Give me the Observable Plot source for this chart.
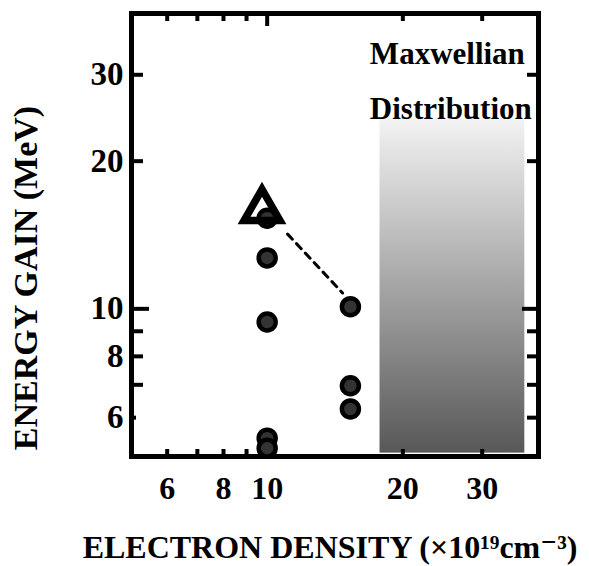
<!DOCTYPE html>
<html>
<head>
<meta charset="utf-8">
<script src="https://cdn.jsdelivr.net/npm/d3@7"></script>
<script src="https://cdn.jsdelivr.net/npm/@observablehq/plot@0.6"></script>
<style>
  html, body { margin: 0; padding: 0; background: #fff; }
  #chart svg { display: block; }
</style>
</head>
<body>
<div id="chart"></div>
<script>
// ---- data ----
const densityA = [10, 10, 10, 10, 10];          // ×10^19 cm^-3
const energyA  = [15.3, 12.7, 9.4, 5.45, 5.2];  // MeV
const densityB = [15.3, 15.3, 15.3];
const energyB  = [10.1, 6.97, 6.25];
const triDensity = [9.74];
const triEnergy  = [15.9];
const trendDensity = [11.1, 14.7];
const trendEnergy  = [14.2, 10.77];
const bandDensity = [17.8, 37.3];
const bandEnergy  = [5.08, 24.4];
const annoText = ["Maxwellian", "Distribution"];
const annoDensity = [16.9, 16.9];
const annoEnergy = [33.1, 25.5];
const xTickLabels = [6, 8, 10, 20, 30];
const yTickLabels = [6, 8, 10, 20, 30];
const minorTicks = [6, 7, 8, 9, 20, 30];
const majorTicks = [10];
const xTitle = "ELECTRON DENSITY (×10¹⁹cm⁻³)";
const yTitle = "ENERGY GAIN (MeV)";

// ---- tables built from the arrays ----
const circles = densityA.map((d, i) => ({density: d, energy: energyA[i]}))
  .concat(densityB.map((d, i) => ({density: d, energy: energyB[i]})));
const triangle = triDensity.map((d, i) => ({density: d, energy: triEnergy[i]}));
const trend = trendDensity.map((d, i) => ({density: d, energy: trendEnergy[i]}));
const band = [{x1: bandDensity[0], x2: bandDensity[1], y1: bandEnergy[0], y2: bandEnergy[1]}];
const anno = annoText.map((t, i) => ({t, density: annoDensity[i], energy: annoEnergy[i]}));

const FONT = "'Liberation Serif', 'Times New Roman', 'DejaVu Serif', serif";
const fmt = d => String(d);

const defs = () => {
  const el = d3.create("svg:defs");
  const g = el.append("linearGradient").attr("id", "maxgrad")
    .attr("x1", 0).attr("y1", 0).attr("x2", 0).attr("y2", 1);
  g.append("stop").attr("offset", "0%").attr("stop-color", "#f3f3f3");
  g.append("stop").attr("offset", "100%").attr("stop-color", "#585858");
  return el.node();
};

const tickOpts = {fill: "none", strokeWidth: 4, label: null, tickFormat: null};
const textStyle = {fontWeight: "bold", fontFamily: FONT, fill: "black"};

const chart = Plot.plot({
  width: 589,
  height: 566,
  marginLeft: 131,
  marginRight: 51,
  marginTop: 13,
  marginBottom: 110,
  style: {fontFamily: FONT, fontWeight: "bold", background: "white", color: "black", overflow: "visible"},
  x: {type: "log", domain: [5, 40], axis: null},
  y: {type: "log", domain: [5, 40], axis: null},
  marks: [
    defs,
    Plot.rect(band, {x1: "x1", x2: "x2", y1: "y1", y2: "y2", fill: "url(#maxgrad)"}),
    // ticks (inward)
    Plot.axisY(majorTicks, {...tickOpts, anchor: "left", tickSize: -18}),
    Plot.axisY([7, 8, 9, 20, 30], {...tickOpts, anchor: "left", tickSize: -12}),
    Plot.axisY([6], {...tickOpts, anchor: "left", tickSize: -5}),
    Plot.axisY(majorTicks, {...tickOpts, anchor: "right", tickSize: -17}),
    Plot.axisY(minorTicks, {...tickOpts, anchor: "right", tickSize: -12}),
    Plot.axisX(majorTicks, {...tickOpts, anchor: "top", tickSize: -12}),
    Plot.axisX(minorTicks, {...tickOpts, anchor: "top", tickSize: -7}),
    Plot.axisX(minorTicks.concat(majorTicks), {...tickOpts, anchor: "bottom", tickSize: -7}),
    // tick labels
    Plot.text(yTickLabels, {y: d => d, text: fmt, frameAnchor: "left", textAnchor: "end", lineAnchor: "middle",
      dx: -8, fontSize: 33, ...textStyle}),
    Plot.text(xTickLabels, {x: d => d, text: fmt, frameAnchor: "bottom", textAnchor: "middle", lineAnchor: "top",
      dy: 20, fontSize: 32, ...textStyle}),
    Plot.frame({stroke: "black", strokeWidth: 5}),
    // trend line
    Plot.line(trend, {x: "density", y: "energy", stroke: "black", strokeWidth: 3, strokeDasharray: "7,6"}),
    // data points
    Plot.dot(circles, {x: "density", y: "energy", r: 8.5, fill: "#333", stroke: "#000", strokeWidth: 4.5}),
    Plot.dot(triangle, {x: "density", y: "energy", symbol: "triangle", r: 13.3, fill: "none",
      stroke: "black", strokeWidth: 7.5, strokeLinejoin: "miter"}),
    // annotation
    Plot.text(anno, {x: "density", y: "energy", text: "t", textAnchor: "start", lineAnchor: "middle",
      fontSize: 31, ...textStyle}),
    // axis titles
    Plot.text([xTitle], {frameAnchor: "bottom", text: d => d, textAnchor: "middle", dx: -5, dy: 91.5, lineAnchor: "middle",
      fontSize: 32, ...textStyle, ariaLabel: "xtitle"}),
    Plot.text([yTitle], {frameAnchor: "left", text: d => d, textAnchor: "middle", dx: -105, dy: 43, rotate: -90,
      lineAnchor: "middle", fontSize: 34, ...textStyle})
  ]
});

document.getElementById("chart").appendChild(chart);

// render superscripts in the x title with tspans
d3.select(chart).selectAll("g[aria-label='xtitle'] text").each(function() {
  const t = d3.select(this);
  t.text(null);
  t.append("tspan").text("ELECTRON DENSITY (×10");
  t.append("tspan").attr("font-size", "21").attr("dy", "-11").text("19");
  t.append("tspan").attr("dy", "11").text("cm");
  t.append("tspan").attr("font-size", "21").attr("dy", "-11").text("-3");
  t.append("tspan").attr("dy", "11").text(")");
});
</script>
</body>
</html>
